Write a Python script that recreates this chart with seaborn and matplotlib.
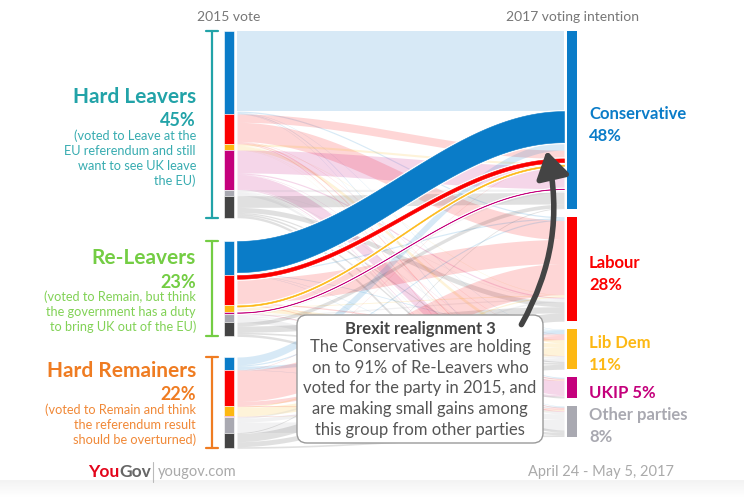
import numpy as np
import pandas as pd
import seaborn as sns
import matplotlib.pyplot as plt
from matplotlib.colors import LinearSegmentedColormap
from matplotlib.patches import FancyBboxPatch, FancyArrowPatch

groups = ["Hard Leavers", "Re-Leavers", "Hard Remainers"]
group_pct = ["45%", "23%", "22%"]
group_desc = [
    "(voted to Leave at the\nEU referendum and still\nwant to see UK leave\nthe EU)",
    "(voted to Remain, but think\nthe government has a duty\nto bring UK out of the EU)",
    "(voted to Remain and think\nthe referendum result\nshould be overturned)",
]
parties_2015 = ["Con", "Lab", "LD", "UKIP", "Other", "Did not vote"]
parties_2017 = ["Conservative", "Labour", "Lib Dem", "UKIP", "Other parties"]
pct_2017 = ["48%", "28%", "11%", "5%", "8%"]

# rows = 2015 vote, cols = 2017 intention (share of all respondents)
flows_hard_leavers = [
    [19.3, 0.3, 0.1, 0.2, 0.1],
    [2.0, 4.6, 0.1, 0.3, 0.2],
    [0.5, 0.1, 0.8, 0.05, 0.05],
    [5.5, 0.3, 0.1, 3.4, 0.2],
    [0.5, 0.1, 0.2, 0.1, 0.6],
    [2.8, 1.2, 0.3, 0.4, 0.6],
]
flows_re_leavers = [
    [7.5, 0.3, 0.2, 0.1, 0.1],
    [0.9, 5.8, 0.3, 0.1, 0.2],
    [0.3, 0.2, 1.05, 0.05, 0.1],
    [0.1, 0.0, 0.0, 0.2, 0.0],
    [0.3, 0.3, 0.2, 0.0, 1.3],
    [0.9, 1.5, 0.4, 0.0, 0.6],
]
flows_hard_remainers = [
    [1.9, 0.3, 0.8, 0.0, 0.1],
    [0.1, 7.5, 1.0, 0.0, 0.2],
    [0.0, 0.3, 2.0, 0.0, 0.1],
    [0.0, 0.0, 0.0, 0.1, 0.0],
    [0.0, 0.4, 0.9, 0.0, 2.5],
    [0.2, 2.0, 1.2, 0.0, 0.4],
]

rows = []
for g, mat in zip(groups, [flows_hard_leavers, flows_re_leavers, flows_hard_remainers]):
    for p, row in zip(parties_2015, mat):
        for d, v in zip(parties_2017, row):
            rows.append((g, p, d, v))
df = pd.DataFrame(rows, columns=["group", "src", "dst", "value"])

col_2015 = {"Con": "#0a7cc8", "Lab": "#fb0000", "LD": "#fdb813", "UKIP": "#c4007c",
            "Other": "#a9a9b1", "Did not vote": "#444444"}
col_2017 = {"Conservative": "#0a7cc8", "Labour": "#fb0000", "Lib Dem": "#fdb813",
            "UKIP": "#c4007c", "Other parties": "#a9a9b1"}
group_col = ["#22a3a8", "#74cd44", "#ef7c22"]

sns.set_theme(style="white")
plt.rcParams['font.family'] = ['Lato', 'DejaVu Sans']

fig = plt.figure(figsize=(7.44, 4.97), dpi=100)
ax = fig.add_axes([0, 0, 1, 1])

scale = 4.15
left_top = [31, 241, 357]
lx0, lx1 = 224, 234
rx0, rx1 = 567, 577
right_gap = 8

# left node segments
seg_top = {}
for gi, g in enumerate(groups):
    y = left_top[gi]
    sizes = df[df.group == g].groupby("src", sort=False)["value"].sum()
    for p in parties_2015:
        h = sizes[p] * scale
        seg_top[(g, p)] = y
        ax.bar(lx0, h, bottom=y, width=lx1 - lx0, align="edge", color=col_2015[p],
               edgecolor="white", linewidth=0.4)
        y += h

# right nodes
dst_tot = df.groupby("dst", sort=False)["value"].sum()
node_top = {}
y = 31
for d in parties_2017:
    h = dst_tot[d] * scale
    node_top[d] = (y, y + h)
    ax.bar(rx0, h, bottom=y, width=rx1 - rx0, align="edge", color=col_2017[d], linewidth=0)
    y += h + right_gap

# link positions: left side by destination, right side by 2015 party then group
lcur = dict(seg_top)
left_pos = {}
for g in groups:
    for p in parties_2015:
        for d in parties_2017:
            v = df[(df.group == g) & (df.src == p) & (df.dst == d)].value.iloc[0]
            left_pos[(g, p, d)] = (lcur[(g, p)], lcur[(g, p)] + v * scale)
            lcur[(g, p)] += v * scale
right_pos = {}
for d in parties_2017:
    cur = node_top[d][0]
    for p in parties_2015:
        for g in groups:
            v = df[(df.group == g) & (df.src == p) & (df.dst == d)].value.iloc[0]
            right_pos[(g, p, d)] = (cur, cur + v * scale)
            cur += v * scale

xs = np.linspace(237, 564, 200)
s = (1 - np.cos(np.pi * (xs - xs[0]) / (xs[-1] - xs[0]))) / 2

highlight = [("Re-Leavers", p, "Conservative") for p in ["Con", "Lab", "LD", "UKIP"]]

for key in left_pos:
    if key in highlight:
        continue
    (a0, a1), (b0, b1) = left_pos[key], right_pos[key]
    if a1 - a0 <= 0:
        continue
    ax.fill_between(xs, a0 + (b0 - a0) * s, a1 + (b1 - a1) * s,
                    color=col_2015[key[1]], alpha=0.16, linewidth=0)

for key in highlight:
    (a0, a1), (b0, b1) = left_pos[key], right_pos[key]
    top, bot = a0 + (b0 - a0) * s, a1 + (b1 - a1) * s
    ax.fill_between(xs, top, bot, facecolor="white", edgecolor="white", linewidth=2.2)
    ax.fill_between(xs, top, bot, facecolor=col_2015[key[1]], edgecolor=col_2015[key[1]],
                    linewidth=0.4)

# brackets and group labels
name_y = [97, 258, 371]
for gi, g in enumerate(groups):
    top = left_top[gi]
    bot = seg_top[(g, "Did not vote")] + df[(df.group == g) & (df.src == "Did not vote")].value.sum() * scale
    c = group_col[gi]
    ax.plot([212, 212], [top, bot], color=c, lw=1.6)
    ax.plot([206, 218], [top, top], color=c, lw=1.6)
    ax.plot([206, 218], [bot, bot], color=c, lw=1.6)
    ax.text(196, name_y[gi], g, color=c, fontsize=15, fontweight="bold", ha="right", va="center")
    ax.text(196, name_y[gi] + 24, group_pct[gi], color=c, fontsize=13, fontweight="bold",
            ha="right", va="center")
    ax.text(196, name_y[gi] + 32, group_desc[gi], color=c, fontsize=9.2, ha="right", va="top",
            linespacing=1.3, alpha=0.9)

# right labels
for d, pc in zip(parties_2017, pct_2017):
    y0, y1 = node_top[d]
    lab = f"{d} {pc}" if d == "UKIP" else f"{d}\n{pc}"
    ax.text(589, (y0 + y1) / 2 + 5, lab, color=col_2017[d], fontsize=12, fontweight="bold",
            ha="left", va="center", linespacing=1.5)

ax.text(229, 17, "2015 vote", color="#777777", fontsize=10, ha="center", va="center")
ax.text(572, 17, "2017 voting intention", color="#777777", fontsize=10, ha="center", va="center")

# annotation box and arrow
box = FancyBboxPatch((297, 315), 246, 128, boxstyle="round,pad=0,rounding_size=10",
                     fc="white", ec="#9a9a9a", lw=1, zorder=5)
ax.add_patch(box)
ax.text(420, 329, "Brexit realignment 3", color="#444444", fontsize=12, fontweight="bold",
        ha="center", va="center", zorder=6)
ax.text(420, 339, "The Conservatives are holding\non to 91% of Re-Leavers who\n"
        "voted for the party in 2015, and\nare making small gains among\n"
        "this group from other parties", color="#555555", fontsize=12,
        ha="center", va="top", linespacing=1.36, zorder=6)
arrow = FancyArrowPatch((520, 327), (546, 148), connectionstyle="arc3,rad=0.2",
                        arrowstyle="-|>,head_length=8,head_width=5", lw=4,
                        color="#444444", zorder=7, mutation_scale=2)
ax.add_patch(arrow)

# footer
t1 = ax.text(88, 472, "You", color="#e3051b", fontsize=12.5, fontweight="bold", va="center")
ax.annotate("Gov", xy=(1, 0.5), xycoords=t1, va="center", ha="left", color="#666666",
            fontsize=12.5, fontweight="bold")
ax.plot([153, 153], [462, 482], color="#bbbbbb", lw=0.8)
ax.text(158, 472, "yougov.com", color="#aaaaaa", fontsize=10.5, va="center")
ax.text(674, 472, "April 24 - May 5, 2017", color="#aaaaaa", fontsize=10.5, va="center", ha="right")

grad = np.linspace(0, 1, 30).reshape(-1, 1)
fade = LinearSegmentedColormap.from_list("fade", ["#ffffff", "#f3f3f3"])
ax.imshow(grad, extent=[0, 744, 480, 497], cmap=fade, aspect="auto", zorder=0)

ax.set_xlim(0, 744)
ax.set_ylim(497, 0)
ax.axis("off")
fig.savefig("out.png", dpi=100)
